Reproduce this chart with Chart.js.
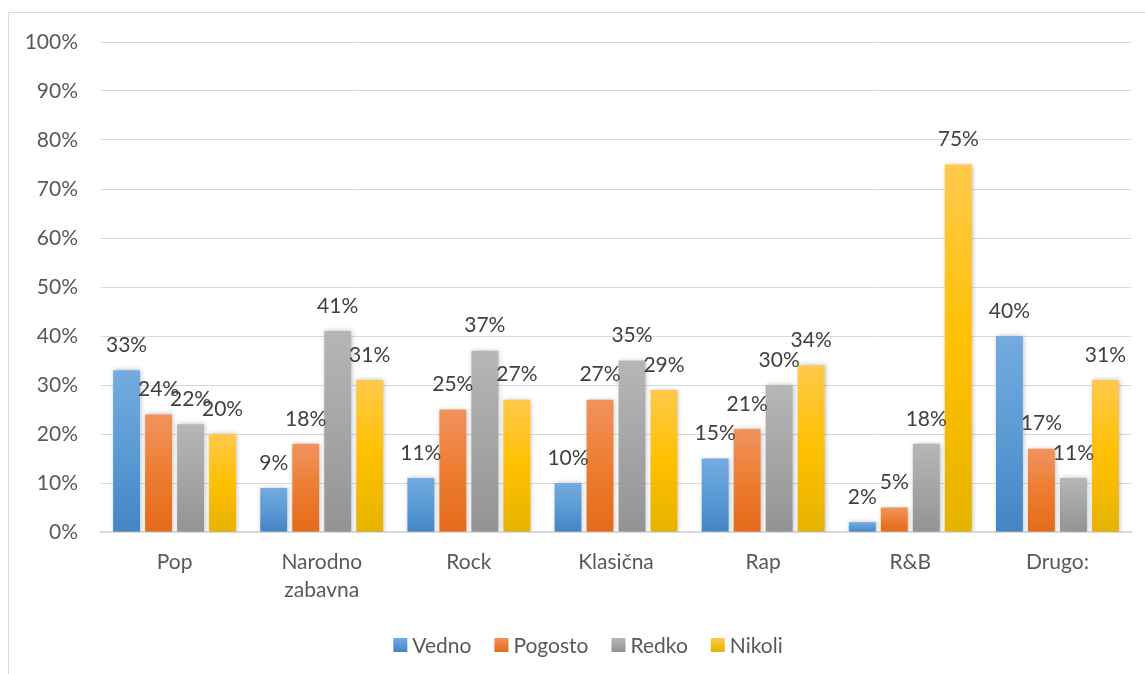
<!DOCTYPE html>
<html>
<head>
<meta charset="utf-8">
<script src="https://cdn.jsdelivr.net/npm/chart.js@4.4.1/dist/chart.umd.min.js"></script>
<style>
body { margin: 0; background: #fff; overflow: hidden; }
#frame { position: absolute; left: 8px; top: 12px; width: 1200px; height: 700px; border: 1px solid #d9d9d9; }
#c { position: absolute; left: 0; top: 0; }
</style>
</head>
<body>
<div id="frame"></div>
<canvas id="c" width="1145" height="674"></canvas>
<script>
// Datos
var categories = [['Pop'], ['Narodno', 'zabavna'], ['Rock'], ['Klasična'], ['Rap'], ['R&B'], ['Drugo:']];
var seriesNames = ['Vedno', 'Pogosto', 'Redko', 'Nikoli'];
var vedno   = [33, 9, 11, 10, 15, 2, 40];
var pogosto = [24, 18, 25, 27, 21, 5, 17];
var redko   = [22, 41, 37, 35, 30, 18, 11];
var nikoli  = [20, 31, 27, 29, 34, 75, 31];
var yTicks  = [0, 10, 20, 30, 40, 50, 60, 70, 80, 90, 100];

// gradient colours (top, middle, bottom)
var palette = [
    ['#74aae0', '#5b9bd5', '#4384c6'],
    ['#f1935e', '#ed7d31', '#e46a1a'],
    ['#b6b6b6', '#a5a5a5', '#939393'],
    ['#ffc94b', '#ffc000', '#e5b300']
];

var FONT = 'Lato, "Open Sans", sans-serif';
var FS = 21;

function barFill(cols) {
    return function(context) {
        var chart = context.chart;
        var area = chart.chartArea;
        if (!area || context.type !== 'data') return cols[1];
        var top = chart.scales.y.getPixelForValue(context.raw);
        if (!(area.bottom - top > 0.5)) return cols[1];
        var g = chart.ctx.createLinearGradient(0, top, 0, area.bottom);
        g.addColorStop(0, cols[0]);
        g.addColorStop(0.5, cols[1]);
        g.addColorStop(1, cols[2]);
        return g;
    };
}

// shadow behind bars + value labels on top
var labelsPlugin = {
    id: 'valueLabels',
    beforeDatasetsDraw: function(chart) {
        var ctx = chart.ctx;
        ctx.save();
        ctx.shadowColor = 'rgba(0,0,0,0.28)';
        ctx.shadowBlur = 5;
        ctx.shadowOffsetX = 1;
        ctx.shadowOffsetY = 0;
    },
    afterDatasetsDraw: function(chart) {
        var ctx = chart.ctx;
        ctx.restore();
        ctx.save();
        ctx.font = FS + 'px ' + FONT;
        ctx.fillStyle = '#404040';
        ctx.textAlign = 'center';
        ctx.textBaseline = 'middle';
        chart.data.datasets.forEach(function(ds, i) {
            var meta = chart.getDatasetMeta(i);
            meta.data.forEach(function(bar, j) {
                ctx.fillText(ds.data[j] + '%', bar.x, bar.y - 25);
            });
        });
        ctx.restore();
    }
};

// legend at the bottom
var legendPlugin = {
    id: 'bottomLegend',
    afterDraw: function(chart) {
        var ctx = chart.ctx;
        var box = 14, gap = 5, space = 23, cx = 588, cy = 645;
        ctx.save();
        ctx.font = FS + 'px ' + FONT;
        ctx.textBaseline = 'middle';
        var widths = chart.data.datasets.map(function(d) { return ctx.measureText(d.label).width; });
        var total = 0;
        widths.forEach(function(w) { total += box + gap + w; });
        total += space * (widths.length - 1);
        var x = cx - total / 2;
        chart.data.datasets.forEach(function(d, i) {
            var cols = palette[i];
            var g = ctx.createLinearGradient(0, cy - box / 2, 0, cy + box / 2);
            g.addColorStop(0, cols[0]);
            g.addColorStop(1, cols[2]);
            ctx.fillStyle = g;
            ctx.fillRect(x, cy - box / 2, box, box);
            ctx.fillStyle = '#595959';
            ctx.fillText(d.label, x + box + gap, cy + 1);
            x += box + gap + widths[i] + space;
        });
        ctx.restore();
    }
};

var allSeries = [vedno, pogosto, redko, nikoli];

var ctx1 = document.getElementById('c').getContext('2d');
var chart1 = new Chart(ctx1, {
    type: 'bar',
    data: {
        labels: categories,
        datasets: allSeries.map(function(values, i) {
            return {
                label: seriesNames[i],
                data: values,
                backgroundColor: barFill(palette[i]),
                borderWidth: 0,
                categoryPercentage: 0.87,
                barPercentage: 0.84
            };
        })
    },
    options: {
        responsive: false,
        animation: false,
        events: [],
        layout: { padding: { left: 26, right: 14, top: 42, bottom: 60 } },
        plugins: {
            legend: { display: false },
            tooltip: { enabled: false }
        },
        scales: {
            x: {
                grid: { display: false, drawTicks: false },
                border: { display: true, color: '#d9d9d9', width: 2 },
                ticks: {
                    color: '#595959',
                    font: { family: FONT, size: FS, lineHeight: 1.3 },
                    padding: 17,
                    maxRotation: 0
                },
                afterFit: function(scale) { scale.height = 674 - 60 - 532; }
            },
            y: {
                min: 0,
                max: 100,
                afterBuildTicks: function(scale) {
                    scale.ticks = yTicks.map(function(v) { return { value: v }; });
                },
                grid: { color: '#d9d9d9', lineWidth: 1, drawTicks: false },
                border: { display: false },
                ticks: {
                    color: '#595959',
                    font: { family: FONT, size: FS },
                    padding: 23,
                    callback: function(v) { return v + '%'; }
                },
                afterFit: function(scale) { scale.width = 75; }
            }
        }
    },
    plugins: [labelsPlugin, legendPlugin]
});
</script>
</body>
</html>
